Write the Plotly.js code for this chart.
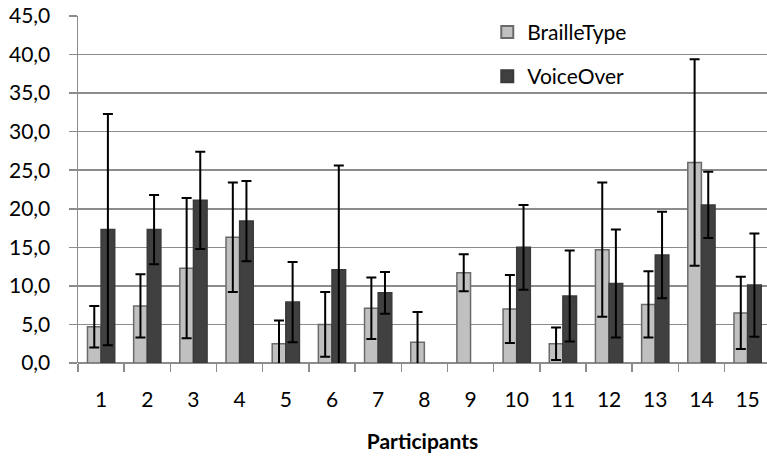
<!DOCTYPE html>
<html>
<head>
<meta charset="utf-8">
<script src="https://cdn.plot.ly/plotly-3.0.1.min.js"></script>
<style>html,body{margin:0;padding:0;background:#fff}#chart{width:767px;height:464px}</style>
</head>
<body>
<div id="chart"></div>
<script>
const participants = [1,2,3,4,5,6,7,8,9,10,11,12,13,14,15];
const tickLabels = ["1","2","3","4","5","6","7","8","9","10","11","12","13","14","15"];
const brailleType = [4.7, 7.4, 12.3, 16.3, 2.5, 5.0, 7.1, 2.7, 11.7, 7.0, 2.5, 14.7, 7.6, 26.0, 6.5];
const brailleErr  = [2.7, 4.1, 9.1, 7.1, 3.0, 4.2, 4.0, 3.9, 2.4, 4.4, 2.1, 8.7, 4.3, 13.4, 4.7];
const voiceOver   = [17.3, 17.3, 21.1, 18.4, 7.9, 12.1, 9.1, null, null, 15.0, 8.7, 10.3, 14.0, 20.5, 10.1];
const voiceErr    = [15.0, 4.5, 6.3, 5.2, 5.2, 13.5, 2.7, null, null, 5.5, 5.9, 7.0, 5.6, 4.3, 6.7];
const yTicks = [0,5,10,15,20,25,30,35,40,45];

const FONT = "Lato, 'Noto Sans', sans-serif";

const traces = [
  {
    type: 'bar', name: 'BrailleType', x: participants, y: brailleType,
    legendgroup: 'a',
    marker: {color: '#c0c0c0', line: {color: '#6a6a6a', width: 1.5}},
    error_y: {type: 'data', array: brailleErr, visible: true, color: '#000', thickness: 2, width: 5}
  },
  {
    type: 'bar', name: 'VoiceOver', x: participants, y: voiceOver,
    legendgroup: 'b',
    marker: {color: '#404040', line: {color: '#3a3a3a', width: 1.5}},
    error_y: {type: 'data', array: voiceErr, visible: true, color: '#000', thickness: 2, width: 5}
  }
];

const layout = {
  width: 767, height: 464,
  margin: {l: 78, r: 0, t: 16, b: 101},
  paper_bgcolor: '#fff', plot_bgcolor: '#fff',
  font: {family: FONT, size: 21, color: '#000'},
  separators: ',.',
  barmode: 'group',
  bargap: 0.41,
  bargroupgap: 0,
  showlegend: true,
  legend: {
    x: 0.594, y: 1.012, xanchor: 'left', yanchor: 'top',
    bgcolor: 'rgba(0,0,0,0)', tracegroupgap: 14,
    font: {family: FONT, size: 21, color: '#000'},
    itemsizing: 'constant'
  },
  xaxis: {
    type: 'linear',
    range: [0.5, 15.42],
    tickmode: 'array', tickvals: participants, ticktext: tickLabels,
    ticks: '', ticklabelstandoff: 22,
    showgrid: false, zeroline: false,
    showline: false,
    minor: {tick0: 0.5, dtick: 1, ticks: 'outside', ticklen: 8, tickcolor: '#8c8c8c', tickwidth: 1.5, showgrid: false},
    tickfont: {family: FONT, size: 21, color: '#000'},
    title: {text: '<b>Participants</b>', font: {family: FONT, size: 21, color: '#000'}, standoff: 24}
  },
  yaxis: {
    range: [0, 45],
    tickmode: 'array', tickvals: yTicks,
    tickformat: '.1f',
    ticks: 'outside', ticklen: 8, tickcolor: '#8c8c8c', tickwidth: 1.5,
    ticklabelstandoff: 14,
    showgrid: true, gridcolor: '#8c8c8c', gridwidth: 1.5,
    zeroline: true, zerolinecolor: '#8c8c8c', zerolinewidth: 1.5,
    showline: true, linecolor: '#8c8c8c', linewidth: 1.5,
    tickfont: {family: FONT, size: 21, color: '#000'}
  }
};

Plotly.newPlot('chart', traces, layout, {displayModeBar: false, staticPlot: true});
</script>
</body>
</html>
